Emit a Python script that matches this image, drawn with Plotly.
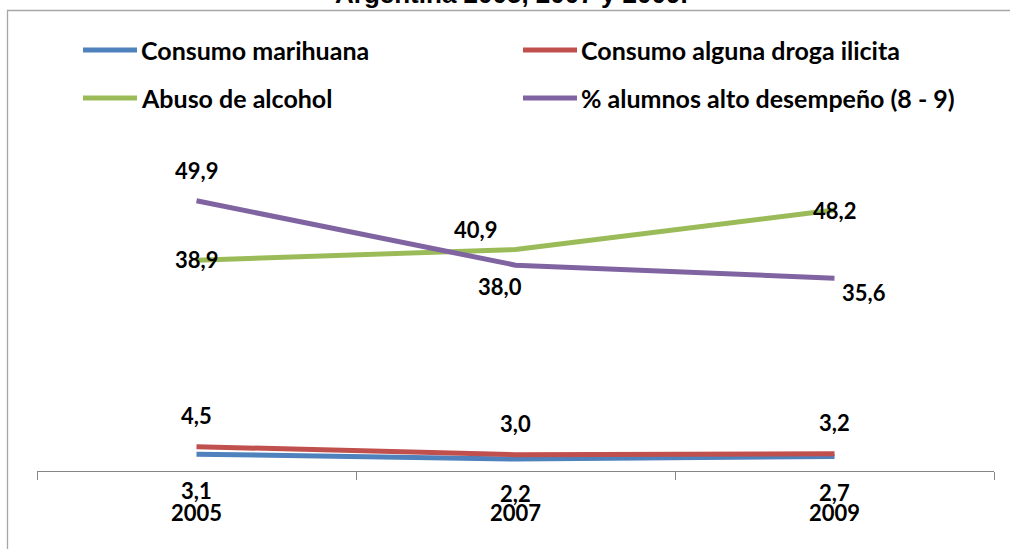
import plotly.graph_objects as go

# Survey years and series (percentages)
years = ["2005", "2007", "2009"]
marihuana = [3.1, 2.2, 2.7]
droga_ilicita = [4.5, 3.0, 3.2]
abuso_alcohol = [38.9, 40.9, 48.2]
alto_desempeno = [49.9, 38.0, 35.6]

series_names = [
    "Consumo marihuana",
    "Consumo alguna droga ilicita",
    "Abuso de alcohol",
    "% alumnos alto desempeño (8 - 9)",
]
series_values = [marihuana, droga_ilicita, abuso_alcohol, alto_desempeno]
series_colors = ["#4F81BD", "#C0504D", "#9BBB59", "#8064A2"]

# Label offsets (px) relative to each point: (xshift, yshift)
label_offsets = [
    [(0, -36), (0, -34), (0, -36)],
    [(0, 31), (0, 31), (0, 31)],
    [(0, 1), (-40, 20), (0, -1)],
    [(0, 30), (-16, -21), (29, -14)],
]

W, H = 1010, 549
L, R, T, B = 37, 16, 146, 78
PW, PH = W - L - R, H - T - B

FONT = "Lato"


def px_x(px):
    return (px - L) / PW


def px_y(py):
    return (H - B - py) / PH


fig = go.Figure()
for name, vals, col in zip(series_names, series_values, series_colors):
    fig.add_trace(go.Scatter(
        x=years, y=vals, name=name, mode="lines",
        line=dict(color=col, width=5),
        showlegend=False, hoverinfo="skip",
    ))

annotations = []
for vals, offs in zip(series_values, label_offsets):
    for i, (v, (dx, dy)) in enumerate(zip(vals, offs)):
        annotations.append(dict(
            x=i, y=v, xref="x", yref="y",
            text=f"{v:.1f}".replace(".", ","),
            showarrow=False, xshift=dx, yshift=dy,
            xanchor="center", yanchor="middle",
            font=dict(family=FONT, size=22, color="#000000", weight="bold"),
        ))

# Legend: two columns, two rows
legend_pos = [(83, 50), (523, 50), (83, 98), (523, 98)]
shapes = []
for (lx, ly), name, col in zip(legend_pos, series_names, series_colors):
    shapes.append(dict(
        type="line", xref="paper", yref="paper",
        x0=px_x(lx), x1=px_x(lx + 54), y0=px_y(ly), y1=px_y(ly),
        line=dict(color=col, width=5),
    ))
    annotations.append(dict(
        x=px_x(lx + 56), y=px_y(ly), xref="paper", yref="paper",
        text=name, showarrow=False, xanchor="left", yanchor="middle",
        font=dict(family=FONT, size=25, color="#000000", weight="bold"),
    ))

# Chart title (second line)
annotations.append(dict(
    x=px_x(511), y=px_y(-6), xref="paper", yref="paper",
    text="Argentina 2005, 2007 y 2009.", showarrow=False,
    xanchor="center", yanchor="middle",
    font=dict(family="Liberation Sans", size=26, color="#000000", weight="bold"),
))

# Chart frame
shapes.append(dict(
    type="rect", xref="paper", yref="paper",
    x0=px_x(7.5), x1=px_x(1030), y0=px_y(10.5), y1=px_y(570),
    line=dict(color="#A6A6A6", width=1.3), layer="below",
))

fig.update_layout(
    width=W, height=H,
    margin=dict(l=L, r=R, t=T, b=B),
    paper_bgcolor="white", plot_bgcolor="white",
    showlegend=False,
    annotations=annotations,
    shapes=shapes,
    xaxis=dict(
        type="category", range=[-0.5, 2.5],
        showline=True, linecolor="#868686", linewidth=1.3,
        ticks="outside", tickson="boundaries", ticklen=8,
        tickcolor="#868686", tickwidth=1.3,
        showgrid=False, zeroline=False,
        tickfont=dict(family=FONT, size=22, color="#000000", weight="bold"),
        ticklabelstandoff=22,
    ),
    yaxis=dict(
        range=[0, 60], visible=False, showgrid=False, zeroline=False,
    ),
)

fig.write_html("out.html")
